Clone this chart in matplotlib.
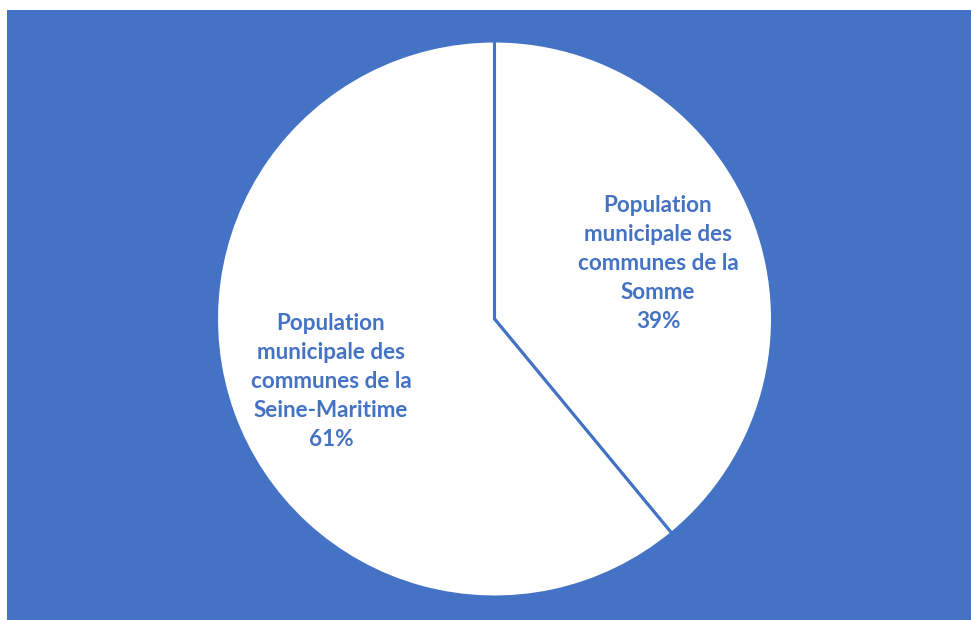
import numpy as np
import matplotlib
matplotlib.use("Agg")
import matplotlib.pyplot as plt

labels = ["Population\nmunicipale des\ncommunes de la\nSomme", "Population\nmunicipale des\ncommunes de la\nSeine-Maritime"]
values = [39, 61]

BLUE = "#4472C4"
W, H = 971, 620
fig = plt.figure(figsize=(W / 100, H / 100), dpi=100, facecolor="white")
bg = fig.add_axes([7 / W, 0, 1 - 7 / W, (H - 10) / H], zorder=-1)
bg.set_facecolor(BLUE)
bg.axis("off")
bg.add_patch(plt.Rectangle((0, 0), 1, 1, transform=bg.transAxes, facecolor=BLUE, edgecolor="none"))

cx, cy, r = 494.5, 319, 278
ax = fig.add_axes([(cx - r) / W, (H - cy - r) / H, 2 * r / W, 2 * r / H], zorder=1)
ax.set_facecolor("none")
wedges, _ = ax.pie(values, startangle=90, counterclock=False, colors=["white", "white"],
                   wedgeprops=dict(edgecolor=BLUE, linewidth=2.2))
for w, lab, v in zip(wedges, labels, values):
    ang = np.deg2rad((w.theta1 + w.theta2) / 2)
    d = 0.625
    ax.text(d * np.cos(ang), d * np.sin(ang) - 0.012, f"{lab}\n{v}%", ha="center", va="center",
            color=BLUE, fontsize=16.2, fontweight="bold", family="Lato", linespacing=1.47)
ax.set_xlim(-1, 1)
ax.set_ylim(-1, 1)
ax.set_aspect("equal")
ax.axis("off")
fig.savefig("out.png", dpi=100, facecolor="white")
